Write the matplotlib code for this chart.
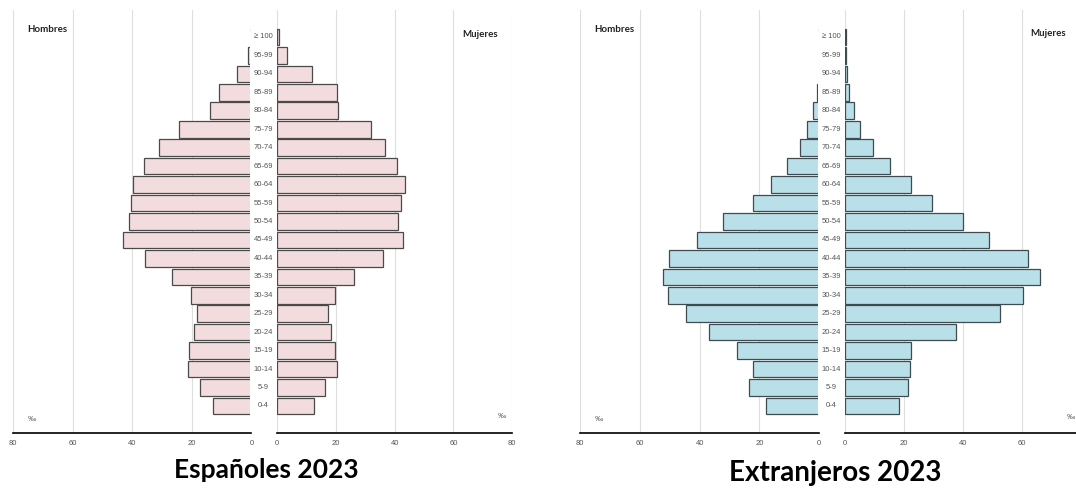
import matplotlib
matplotlib.use("Agg")
import matplotlib.pyplot as plt
from matplotlib.patches import Rectangle

ages = ["0-4", "5-9", "10-14", "15-19", "20-24", "25-29", "30-34", "35-39", "40-44",
        "45-49", "50-54", "55-59", "60-64", "65-69", "70-74", "75-79", "80-84",
        "85-89", "90-94", "95-99", "≥ 100"]

esp_hombres = [13.0, 17.4, 21.3, 21.1, 19.4, 18.2, 20.3, 26.7, 35.6, 43.1, 41.0,
               40.4, 39.8, 36.2, 30.9, 24.2, 14.0, 10.8, 4.8, 1.0, 0.1]
esp_mujeres = [12.4, 16.3, 20.4, 19.8, 18.2, 17.2, 19.8, 26.2, 36.1, 43.0, 41.3,
               42.1, 43.4, 40.9, 36.6, 32.1, 20.7, 20.5, 12.0, 3.4, 0.6]
ext_hombres = [17.8, 23.4, 22.1, 27.6, 36.8, 44.4, 50.7, 52.1, 50.1, 41.0, 32.1,
               22.1, 16.0, 10.9, 6.5, 4.2, 2.0, 0.9, 0.1, 0.05, 0.0]
ext_mujeres = [18.4, 21.3, 22.1, 22.6, 37.8, 52.6, 60.3, 66.0, 62.1, 49.0, 40.2,
               29.5, 22.3, 15.2, 9.5, 5.1, 3.0, 1.5, 0.7, 0.3, 0.3]

x_ticks = [0, 20, 40, 60, 80]
titles = ["Españoles 2023", "Extranjeros 2023"]

W, H = 1076, 490
fig = plt.figure(figsize=(W / 100, H / 100), dpi=100)
fig.patch.set_facecolor("white")

NARROW = ["Liberation Sans Narrow", "Liberation Sans", "DejaVu Sans"]
BOLD = ["Lato", "DejaVu Sans"]

y_bot_px, y_top_px = 432.7, 10.0
fy = (H - y_bot_px) / H
fh = (y_bot_px - y_top_px) / H
YLIM = (-1.447, 21.46)
pos = list(range(len(ages)))


def px_ax(x0, x1):
    return [x0 / W, fy, (x1 - x0) / W, fh]


def setup(ax, inverted):
    ax.set_ylim(*YLIM)
    if inverted:
        ax.set_xlim(80, 0)
    else:
        ax.set_xlim(0, 80)
    ax.set_facecolor("none")
    for s in ["top", "left", "right"]:
        ax.spines[s].set_visible(False)
    ax.spines["bottom"].set_linewidth(1.2)
    ax.spines["bottom"].set_color("black")
    ax.set_yticks([])
    ax.set_xticks(x_ticks)
    ax.set_xticklabels([str(t) for t in x_ticks], fontfamily=NARROW,
                       fontsize=5.5, color="#555555")
    ax.tick_params(axis="x", which="major", length=0, pad=5)
    ax.set_xticks([0, 80], minor=True)
    ax.tick_params(axis="x", which="minor", length=3, width=1.0,
                   direction="in", color="black")
    ax.grid(axis="x", which="major", color="#dedede", linewidth=0.8)
    ax.set_axisbelow(True)


panels = [
    dict(hom=esp_hombres, muj=esp_mujeres, fill="#f3dcdd", edge="#4a4a4a",
         mx=(13.1, 251.4), fx=(277.2, 512.1), title_x=266, title_y=470, tsize=19,
         hom_lbl=(26.9, 30), muj_lbl=(462, 34.4), pm_m=(32, 419), pm_f=(502, 416)),
    dict(hom=ext_hombres, muj=ext_mujeres, fill="#b9dfe9", edge="#3e4b50",
         mx=(580.0, 819.3), fx=(844.7, 1081.1), title_x=835.5, title_y=473, tsize=20,
         hom_lbl=(594.3, 29), muj_lbl=(1030, 33.3), pm_m=(599, 419), pm_f=(1071, 417)),
]

for i, p in enumerate(panels):
    axm = fig.add_axes(px_ax(*p["mx"]))
    setup(axm, True)
    axm.barh(pos, p["hom"], height=0.9, color=p["fill"], edgecolor=p["edge"],
             linewidth=0.9, zorder=2)

    axf = fig.add_axes(px_ax(*p["fx"]))
    setup(axf, False)
    axf.barh(pos, p["muj"], height=0.9, color=p["fill"], edgecolor=p["edge"],
             linewidth=0.9, zorder=2)

    # central label column
    lx0 = p["mx"][1] - 0.9
    lx1 = p["fx"][0] - 0.6
    axl = fig.add_axes(px_ax(lx0, lx1))
    axl.set_ylim(*YLIM)
    axl.set_xlim(0, 1)
    axl.axis("off")
    axl.add_patch(Rectangle((0, -1.14), 1, 20.33 + 1.14, facecolor="white",
                            edgecolor="none", zorder=1))
    for k, lab in enumerate(ages):
        axl.text(0.5, k, lab, ha="center", va="center", fontsize=5.5,
                 fontfamily=NARROW, color="#555555", zorder=3)

    fig.text(p["hom_lbl"][0] / W, 1 - p["hom_lbl"][1] / H, "Hombres",
             ha="left", va="center", fontsize=7, fontweight="bold",
             fontfamily=BOLD, color="#222222")
    fig.text(p["muj_lbl"][0] / W, 1 - p["muj_lbl"][1] / H, "Mujeres",
             ha="left", va="center", fontsize=7, fontweight="bold",
             fontfamily=BOLD, color="#222222")
    for (x, y) in (p["pm_m"], p["pm_f"]):
        fig.text(x / W, 1 - y / H, "‰", ha="center", va="center", fontsize=6,
                 fontfamily=NARROW, color="#666666")
    fig.text(p["title_x"] / W, 1 - p["title_y"] / H, titles[i], ha="center",
             va="center", fontsize=p["tsize"], fontweight="bold", fontfamily=BOLD,
             color="black")

fig.savefig("out.png", dpi=100, facecolor="white")
